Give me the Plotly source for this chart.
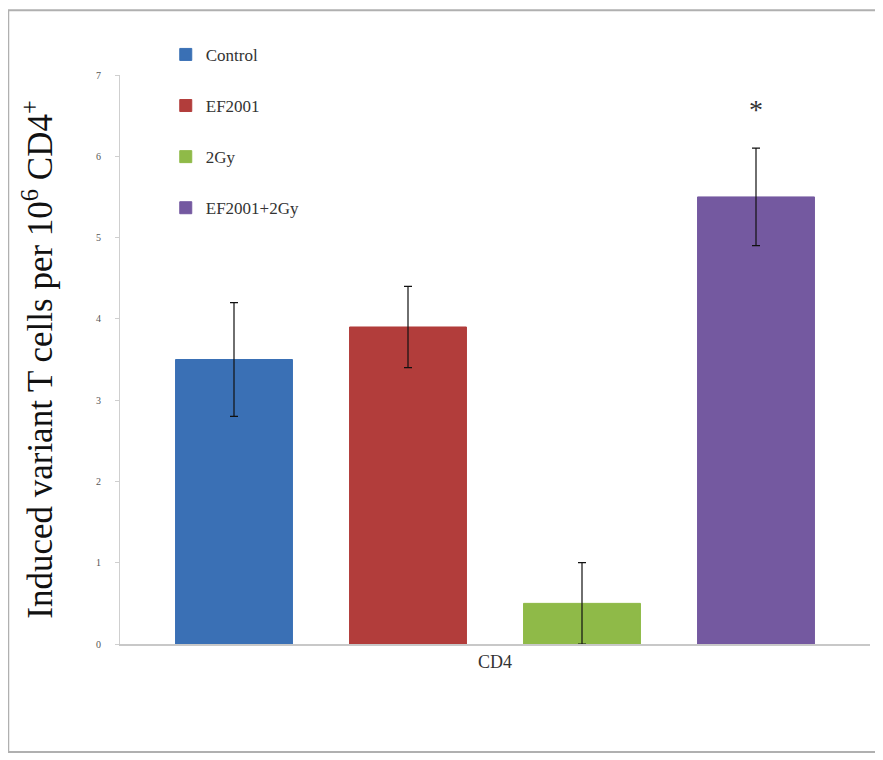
import plotly.graph_objects as go

categories = ["CD4"]
series_names = ["Control", "EF2001", "2Gy", "EF2001+2Gy"]
series_values = [3.5, 3.9, 0.5, 5.5]
series_errors = [0.7, 0.5, 0.5, 0.6]
series_colors = ["#3a70b5", "#b23d3b", "#8fba48", "#7459a0"]
y_ticks = [0, 1, 2, 3, 4, 5, 6, 7]

fig = go.Figure()
for i, (name, val, err, col) in enumerate(zip(series_names, series_values, series_errors, series_colors)):
    fig.add_trace(go.Bar(
        x=categories, y=[val], name=name,
        marker=dict(color=col, line=dict(color=col, width=1)),
        error_y=dict(type="data", array=[err], color="#111", thickness=1.2, width=4),
        legendgroup=f"g{i}",
    ))

serif = "Liberation Serif"
fig.update_layout(
    width=883, height=760,
    paper_bgcolor="white", plot_bgcolor="white",
    margin=dict(l=112, r=21, t=67, b=124),
    barmode="group", bargap=0.072, bargroupgap=0.328,
    font=dict(family=serif, color="#222"),
    showlegend=True,
    legend=dict(x=0.061, y=1.067, xanchor="left", yanchor="top",
                font=dict(family=serif, size=17, color="#333"),
                tracegroupgap=26, itemwidth=30, bgcolor="rgba(0,0,0,0)"),
    xaxis=dict(showline=True, linecolor="#c8c8c8", linewidth=2,
               tickfont=dict(family=serif, size=18, color="#333"),
               ticks="", showgrid=False),
    yaxis=dict(range=[0, 7], tickvals=y_ticks, showline=True, linecolor="#cfcfcf", linewidth=1,
               ticks="outside", ticklen=4, tickcolor="#cfcfcf", ticklabelstandoff=12,
               tickfont=dict(family=serif, size=10, color="#555"),
               showgrid=False, zeroline=False,
               title=dict(text="Induced variant T cells per 10<sup>6</sup> CD4<sup>+</sup>",
                          font=dict(family=serif, size=35, color="#111"), standoff=32)),
    shapes=[dict(type="rect", xref="paper", yref="paper",
                 x0=-0.149, x1=1.016, y0=-0.19, y1=1.114,
                 line=dict(color="#b0b0b0", width=2))],
    annotations=[dict(x=0, y=series_values[3] + series_errors[3], xref="x", yref="y",
                      text="*", showarrow=False, yanchor="bottom", yshift=21, xshift=261,
                      font=dict(family=serif, size=28, color="#333"))],
)

fig.write_html("out.html")
